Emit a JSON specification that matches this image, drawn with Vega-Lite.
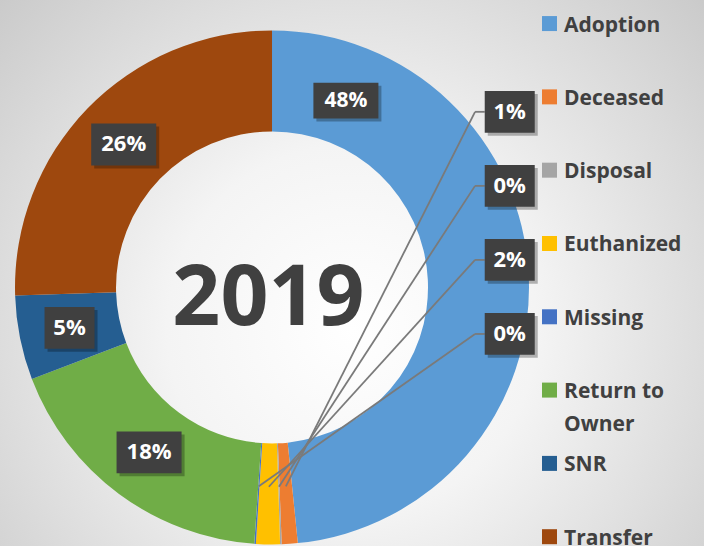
{
  "$schema": "https://vega.github.io/schema/vega-lite/v6.json",
  "width": 704,
  "height": 549,
  "padding": 0,
  "autosize": {"type": "fit", "contains": "padding"},
  "config": {
    "view": {
      "stroke": null,
      "fill": {
        "gradient": "radial",
        "x1": 0.5, "y1": 0.58, "x2": 0.5, "y2": 0.58, "r1": 0, "r2": 0.75,
        "stops": [
          {"offset": 0, "color": "#ffffff"},
          {"offset": 0.35, "color": "#f4f4f4"},
          {"offset": 1, "color": "#c4c4c4"}
        ]
      }
    },
    "axis": {"disable": true},
    "text": {"font": "Open Sans", "fontWeight": "bold"}
  },
  "data": {
    "values": [
      {"category": "Adoption", "value": 48.4, "label": "48%"},
      {"category": "Deceased", "value": 1.0, "label": "1%"},
      {"category": "Disposal", "value": 0.1, "label": "0%"},
      {"category": "Euthanized", "value": 1.5, "label": "2%"},
      {"category": "Missing", "value": 0.1, "label": "0%"},
      {"category": "Return to Owner", "value": 18.1, "label": "18%"},
      {"category": "SNR", "value": 5.3, "label": "5%"},
      {"category": "Transfer", "value": 25.5, "label": "26%"}
    ]
  },
  "transform": [
    {"joinaggregate": [{"op": "sum", "field": "value", "as": "total"}]},
    {"stack": "value", "groupby": [], "sort": [{"field": "category", "order": "ascending"}], "as": ["s0", "s1"]},
    {"calculate": "(datum.s0 + datum.s1) / 2 / datum.total * 2 * PI", "as": "mid"},
    {"calculate": "datum.value < 3", "as": "small"},
    {"window": [{"op": "row_number", "as": "li"}], "sort": [{"field": "category", "order": "ascending"}]}
  ],
  "layer": [
    {
      "mark": {"type": "arc", "outerRadius": 257, "innerRadius": 156, "x": {"expr": "scale('x', 0)"}, "y": {"expr": "scale('y', 0)"}},
      "encoding": {
        "theta": {"field": "value", "type": "quantitative", "stack": true},
        "order": {"field": "category", "type": "ordinal", "sort": "ascending"},
        "color": {
          "field": "category", "type": "nominal", "legend": null,
          "scale": {
            "domain": ["Adoption", "Deceased", "Disposal", "Euthanized", "Missing", "Return to Owner", "SNR", "Transfer"],
            "range": ["#5B9BD5", "#ED7D31", "#A5A5A5", "#FFC000", "#4472C4", "#70AD47", "#255E91", "#9E480E"]
          }
        }
      }
    },
    {
      "transform": [
        {"filter": "datum.small"},
        {"window": [{"op": "row_number", "as": "rk"}], "sort": [{"field": "category", "order": "ascending"}]},
        {"calculate": "0.687 - (datum.rk - 1) * 0.2897", "as": "cy"},
        {"calculate": "0.79", "as": "ex"},
        {"calculate": "0.925 - 0.0973", "as": "bl"},
        {"calculate": "0.78 * sin(datum.mid)", "as": "sx"},
        {"calculate": "0.78 * cos(datum.mid)", "as": "sy"}
      ],
      "layer": [
        {
          "mark": {"type": "rule", "color": "#7a7a7a", "strokeWidth": 1.8},
          "encoding": {
            "x": {"field": "sx", "type": "quantitative", "scale": {"domain": [-1.0584, 1.6809], "nice": false, "zero": false}},
            "y": {"field": "sy", "type": "quantitative", "scale": {"domain": [-1.0117, 1.1245], "nice": false, "zero": false}},
            "x2": {"field": "ex"},
            "y2": {"field": "cy"}
          }
        },
        {
          "mark": {"type": "rule", "color": "#7a7a7a", "strokeWidth": 1.8},
          "encoding": {
            "x": {"field": "ex", "type": "quantitative", "scale": {"domain": [-1.0584, 1.6809], "nice": false, "zero": false}},
            "y": {"field": "cy", "type": "quantitative", "scale": {"domain": [-1.0117, 1.1245], "nice": false, "zero": false}},
            "x2": {"field": "bl"},
            "y2": {"field": "cy"}
          }
        }
      ]
    },
    {
      "transform": [
        {"calculate": "datum.small ? 0.925 : (datum.category == 'Adoption' ? 0.785 : 0.8035) * sin(datum.category == 'Adoption' ? 0.375 : datum.mid)", "as": "lx"},
        {"window": [{"op": "row_number", "as": "rk"}], "groupby": ["small"], "sort": [{"field": "category", "order": "ascending"}]},
        {"calculate": "datum.small ? 0.687 - (datum.rk - 1) * 0.2897 : (datum.category == 'Adoption' ? 0.785 : 0.8035) * cos(datum.category == 'Adoption' ? 0.375 : datum.mid)", "as": "ly"},
        {"calculate": "length(datum.label) > 2 ? 0.1265 : 0.0973", "as": "hw"},
        {"calculate": "datum.category == 'Adoption' ? 0.07 : 0.0817", "as": "hh"},
        {"calculate": "datum.lx - datum.hw", "as": "bx1"},
        {"calculate": "datum.lx + datum.hw", "as": "bx2"},
        {"calculate": "datum.ly - datum.hh", "as": "by1"},
        {"calculate": "datum.ly + datum.hh", "as": "by2"}
      ],
      "layer": [
        {
          "mark": {"type": "rect", "color": "#000000", "opacity": 0.28, "xOffset": 3, "x2Offset": 3, "yOffset": 3, "y2Offset": 3},
          "encoding": {
            "x": {"field": "bx1", "type": "quantitative", "scale": {"domain": [-1.0584, 1.6809], "nice": false, "zero": false}},
            "x2": {"field": "bx2"},
            "y": {"field": "by1", "type": "quantitative", "scale": {"domain": [-1.0117, 1.1245], "nice": false, "zero": false}},
            "y2": {"field": "by2"}
          }
        },
        {
          "mark": {"type": "rect", "color": "#404040"},
          "encoding": {
            "x": {"field": "bx1", "type": "quantitative", "scale": {"domain": [-1.0584, 1.6809], "nice": false, "zero": false}},
            "x2": {"field": "bx2"},
            "y": {"field": "by1", "type": "quantitative", "scale": {"domain": [-1.0117, 1.1245], "nice": false, "zero": false}},
            "y2": {"field": "by2"}
          }
        },
        {
          "mark": {"type": "text", "color": "#ffffff", "align": "center", "baseline": "middle"},
          "encoding": {
            "x": {"field": "lx", "type": "quantitative", "scale": {"domain": [-1.0584, 1.6809], "nice": false, "zero": false}},
            "y": {"field": "ly", "type": "quantitative", "scale": {"domain": [-1.0117, 1.1245], "nice": false, "zero": false}},
            "text": {"field": "label"},
            "size": {"condition": {"test": "datum.category == 'Adoption'", "value": 21}, "value": 22}
          }
        }
      ]
    },
    {
      "data": {"values": [{"title": "2019"}]},
      "mark": {"type": "text", "color": "#404040", "fontSize": 84, "align": "center", "baseline": "alphabetic"},
      "encoding": {
        "x": {"datum": -0.014, "type": "quantitative", "scale": {"domain": [-1.0584, 1.6809], "nice": false, "zero": false}},
        "y": {"datum": -0.148, "type": "quantitative", "scale": {"domain": [-1.0117, 1.1245], "nice": false, "zero": false}},
        "text": {"field": "title"}
      }
    },
    {
      "transform": [
        {"calculate": "1.0323 - (datum.li - 1) * 0.2868", "as": "lgy"},
        {"calculate": "replace(datum.category, 'to ', 'to\\n')", "as": "lt"}
      ],
      "layer": [
        {
          "mark": {"type": "point", "shape": "square", "filled": true, "size": 225, "opacity": 1},
          "encoding": {
            "x": {"datum": 1.0798, "type": "quantitative", "scale": {"domain": [-1.0584, 1.6809], "nice": false, "zero": false}},
            "y": {"field": "lgy", "type": "quantitative", "scale": {"domain": [-1.0117, 1.1245], "nice": false, "zero": false}},
            "color": {"field": "category", "type": "nominal", "legend": null}
          }
        },
        {
          "mark": {"type": "text", "color": "#404040", "fontSize": 21, "align": "left", "baseline": "alphabetic", "dy": 8, "lineBreak": "\n", "lineHeight": 33},
          "encoding": {
            "x": {"datum": 1.1362, "type": "quantitative", "scale": {"domain": [-1.0584, 1.6809], "nice": false, "zero": false}},
            "y": {"field": "lgy", "type": "quantitative", "scale": {"domain": [-1.0117, 1.1245], "nice": false, "zero": false}},
            "text": {"field": "lt"}
          }
        }
      ]
    }
  ]
}
